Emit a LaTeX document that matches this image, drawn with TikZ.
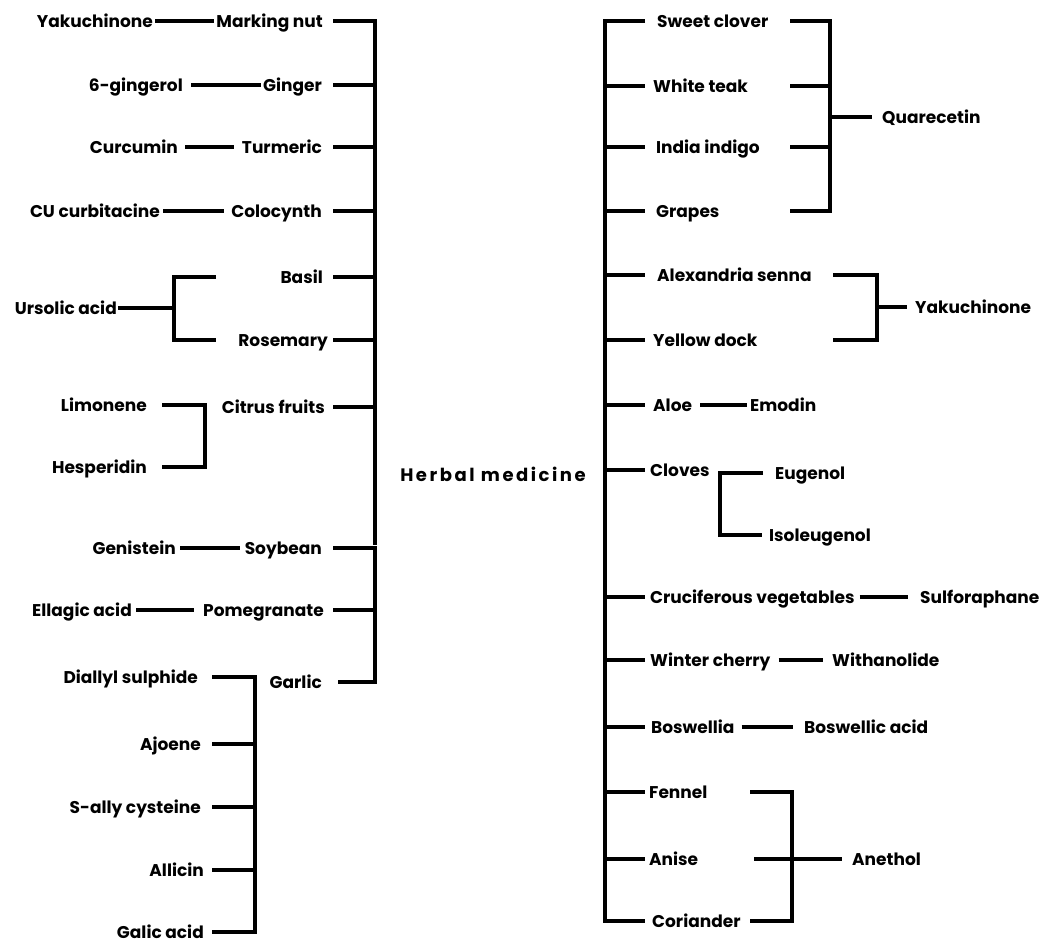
\documentclass[tikz,border=0pt]{standalone}
\usepackage{fontspec}
\setmainfont{Poppins}
\begin{document}
\begin{tikzpicture}[x=1pt,y=-1pt,
  ln/.style={line width=4.6pt},
  lt/.style={inner sep=0pt, font=\fontsize{17}{20}\selectfont\bfseries, text height=12pt, text depth=0pt},
  le/.style={lt, anchor=east},
  lw/.style={lt, anchor=west}]
\useasboundingbox (0,0) rectangle (1046,945);
% fixed x positions
\coordinate (tsL) at (333,0);
\coordinate (trunkL) at (375,0);
\coordinate (gs) at (212,0);
\coordinate (gb) at (255,0);
\coordinate (tsR) at (645,0);
\coordinate (trunkR) at (605,0);
\coordinate (qs) at (790,0);
\coordinate (qb) at (830,0);
\coordinate (ys) at (833,0);
\coordinate (yb) at (877,0);
\coordinate (cb) at (720,0);
\coordinate (as) at (750,0);
\coordinate (ab) at (792,0);
\coordinate (bUrs) at (174,308);
\coordinate (uB) at (216,277);
\coordinate (uR) at (216,340);
\coordinate (limB) at (205,436);
\coordinate (trunkLend) at (375,545);

% left plants
\node[le] (mark) at (323,21) {Marking nut};
\node[le] (ging) at (322,85) {Ginger};
\node[le] (turm) at (322,147) {Turmeric};
\node[le] (colo) at (322,211) {Colocynth};
\node[le] (basil) at (323,277) {Basil};
\node[le] (rose) at (328,340) {Rosemary};
\node[le] (citrus) at (325,407) {Citrus fruits};
\node[le] (soy) at (322,548) {Soybean};
\node[le] (pome) at (324,610) {Pomegranate};
\node[le] (garlic) at (322,682) {Garlic};
% left compounds
\node[le] (yak1) at (153,21) {Yakuchinone};
\node[le] (gingerol) at (183,85) {6-gingerol};
\node[le] (curc) at (178,147) {Curcumin};
\node[le] (cucurb) at (160,211) {CU curbitacine};
\node[le] (urs) at (117,308) {Ursolic acid};
\node[le] (limo) at (147,405) {Limonene};
\node[le] (hesp) at (147,467) {Hesperidin};
\node[le] (geni) at (176,548) {Genistein};
\node[le] (ella) at (132,610) {Ellagic acid};
\node[le] (dial) at (198,677) {Diallyl sulphide};
\node[le] (ajo) at (201,744) {Ajoene};
\node[le] (sally) at (201,807) {S-ally cysteine};
\node[le] (alli) at (204,870) {Allicin};
\node[le] (galic) at (204,932) {Galic acid};

% centre
\node[inner sep=0pt, font=\fontsize{18}{21}\selectfont\bfseries] (herb) at (493,474) {\addfontfeature{LetterSpace=14}Herbal medicine};

% right plants
\node[lw] (sweet) at (657,21) {Sweet clover};
\node[lw] (white) at (653,86) {White teak};
\node[lw] (india) at (656,147) {India indigo};
\node[lw] (grapes) at (656,211) {Grapes};
\node[lw] (alex) at (657,275) {Alexandria senna};
\node[lw] (yellow) at (653,340) {Yellow dock};
\node[lw] (aloe) at (653,405) {Aloe};
\node[lw] (cloves) at (650,470) {Cloves};
\node[lw] (cruc) at (650,597) {Cruciferous vegetables};
\node[lw] (winter) at (650,660) {Winter cherry};
\node[lw] (bosw) at (651,727) {Boswellia};
\node[lw] (fennel) at (649,792) {Fennel};
\node[lw] (anise) at (649,859) {Anise};
\node[lw] (cori) at (652,921) {Coriander};
% right compounds
\node[lw] (quar) at (882,117) {Quarecetin};
\node[lw] (yak2) at (915,307) {Yakuchinone};
\node[lw] (emod) at (750,405) {Emodin};
\node[lw] (eug) at (775,473) {Eugenol};
\node[lw] (iso) at (769,535) {Isoleugenol};
\node[lw] (sulf) at (920,597) {Sulforaphane};
\node[lw] (with) at (832,660) {Withanolide};
\node[lw] (bacid) at (804,727) {Boswellic acid};
\node[lw] (aneth) at (852,859) {Anethol};

% ---- left trunk
\draw[ln] (mark.east -| tsL) -| (trunkLend);
\foreach \n in {ging,turm,colo,basil,rose,citrus}
  \draw[ln] (\n.east -| tsL) -- (\n.east -| trunkL);
\draw[ln] (soy.east -| tsL) -| (garlic.east -| trunkL) -- ([xshift=16]garlic.east);
\draw[ln] (pome.east -| tsL) -- (pome.east -| trunkL);
% left compound links
\draw[ln] ([xshift=2]yak1.east) -- ([xshift=-2]mark.west);
\draw[ln] ([xshift=8]gingerol.east) -- ([xshift=-2]ging.west);
\draw[ln] ([xshift=7]curc.east) -- ([xshift=-8]turm.west);
\draw[ln] ([xshift=3]cucurb.east) -- ([xshift=-7]colo.west);
\draw[ln] ([xshift=4]geni.east) -- ([xshift=-5]soy.west);
\draw[ln] ([xshift=4]ella.east) -- ([xshift=-9]pome.west);
% ursolic bracket
\draw[ln] (uB) -| (bUrs) |- (uR);
\draw[ln] ([xshift=1]urs.east) -- (bUrs);
% limonene bracket
\draw[ln] ([xshift=15]limo.east) -| (limB) |- ([xshift=15]hesp.east);
% garlic bracket
\draw[ln] (dial.east -| gs) -| (galic.east -| gb) -- (galic.east -| gs);
\foreach \n in {ajo,sally,alli}
  \draw[ln] (\n.east -| gs) -- (\n.east -| gb);

% ---- right trunk
\draw[ln] (sweet.west -| tsR) -| (cori.west -| trunkR) -- (cori.west -| tsR);
\foreach \n in {white,india,grapes,alex,yellow,aloe,cloves,cruc,winter,bosw,fennel,anise}
  \draw[ln] (\n.west -| trunkR) -- (\n.west -| tsR);
% quarecetin bracket
\draw[ln] (sweet.west -| qs) -| (grapes.west -| qb) -- (grapes.west -| qs);
\draw[ln] (white.west -| qs) -- (white.west -| qb);
\draw[ln] (india.west -| qs) -- (india.west -| qb);
\draw[ln] (quar.west -| qb) -- ([xshift=-10]quar.west);
% yakuchinone bracket
\draw[ln] (alex.west -| ys) -| (yellow.west -| yb) -- (yellow.west -| ys);
\draw[ln] (yak2.west -| yb) -- ([xshift=-8]yak2.west);
% aloe
\draw[ln] ([xshift=8]aloe.east) -- ([xshift=-3]emod.west);
% cloves bracket
\draw[ln] ([xshift=-12]eug.west) -| (iso.west -| cb) -- ([xshift=-7]iso.west);
% single links
\draw[ln] ([xshift=5]cruc.east) -- ([xshift=-12]sulf.west);
\draw[ln] ([xshift=8]winter.east) -- ([xshift=-9]with.west);
\draw[ln] ([xshift=7]bosw.east) -- ([xshift=-11]bacid.west);
% anethol bracket
\draw[ln] (fennel.west -| as) -| (cori.west -| ab) -- (cori.west -| as);
\draw[ln] ([xshift=4pt]anise.west -| as) -- ([xshift=-10]aneth.west);
\end{tikzpicture}
\end{document}
